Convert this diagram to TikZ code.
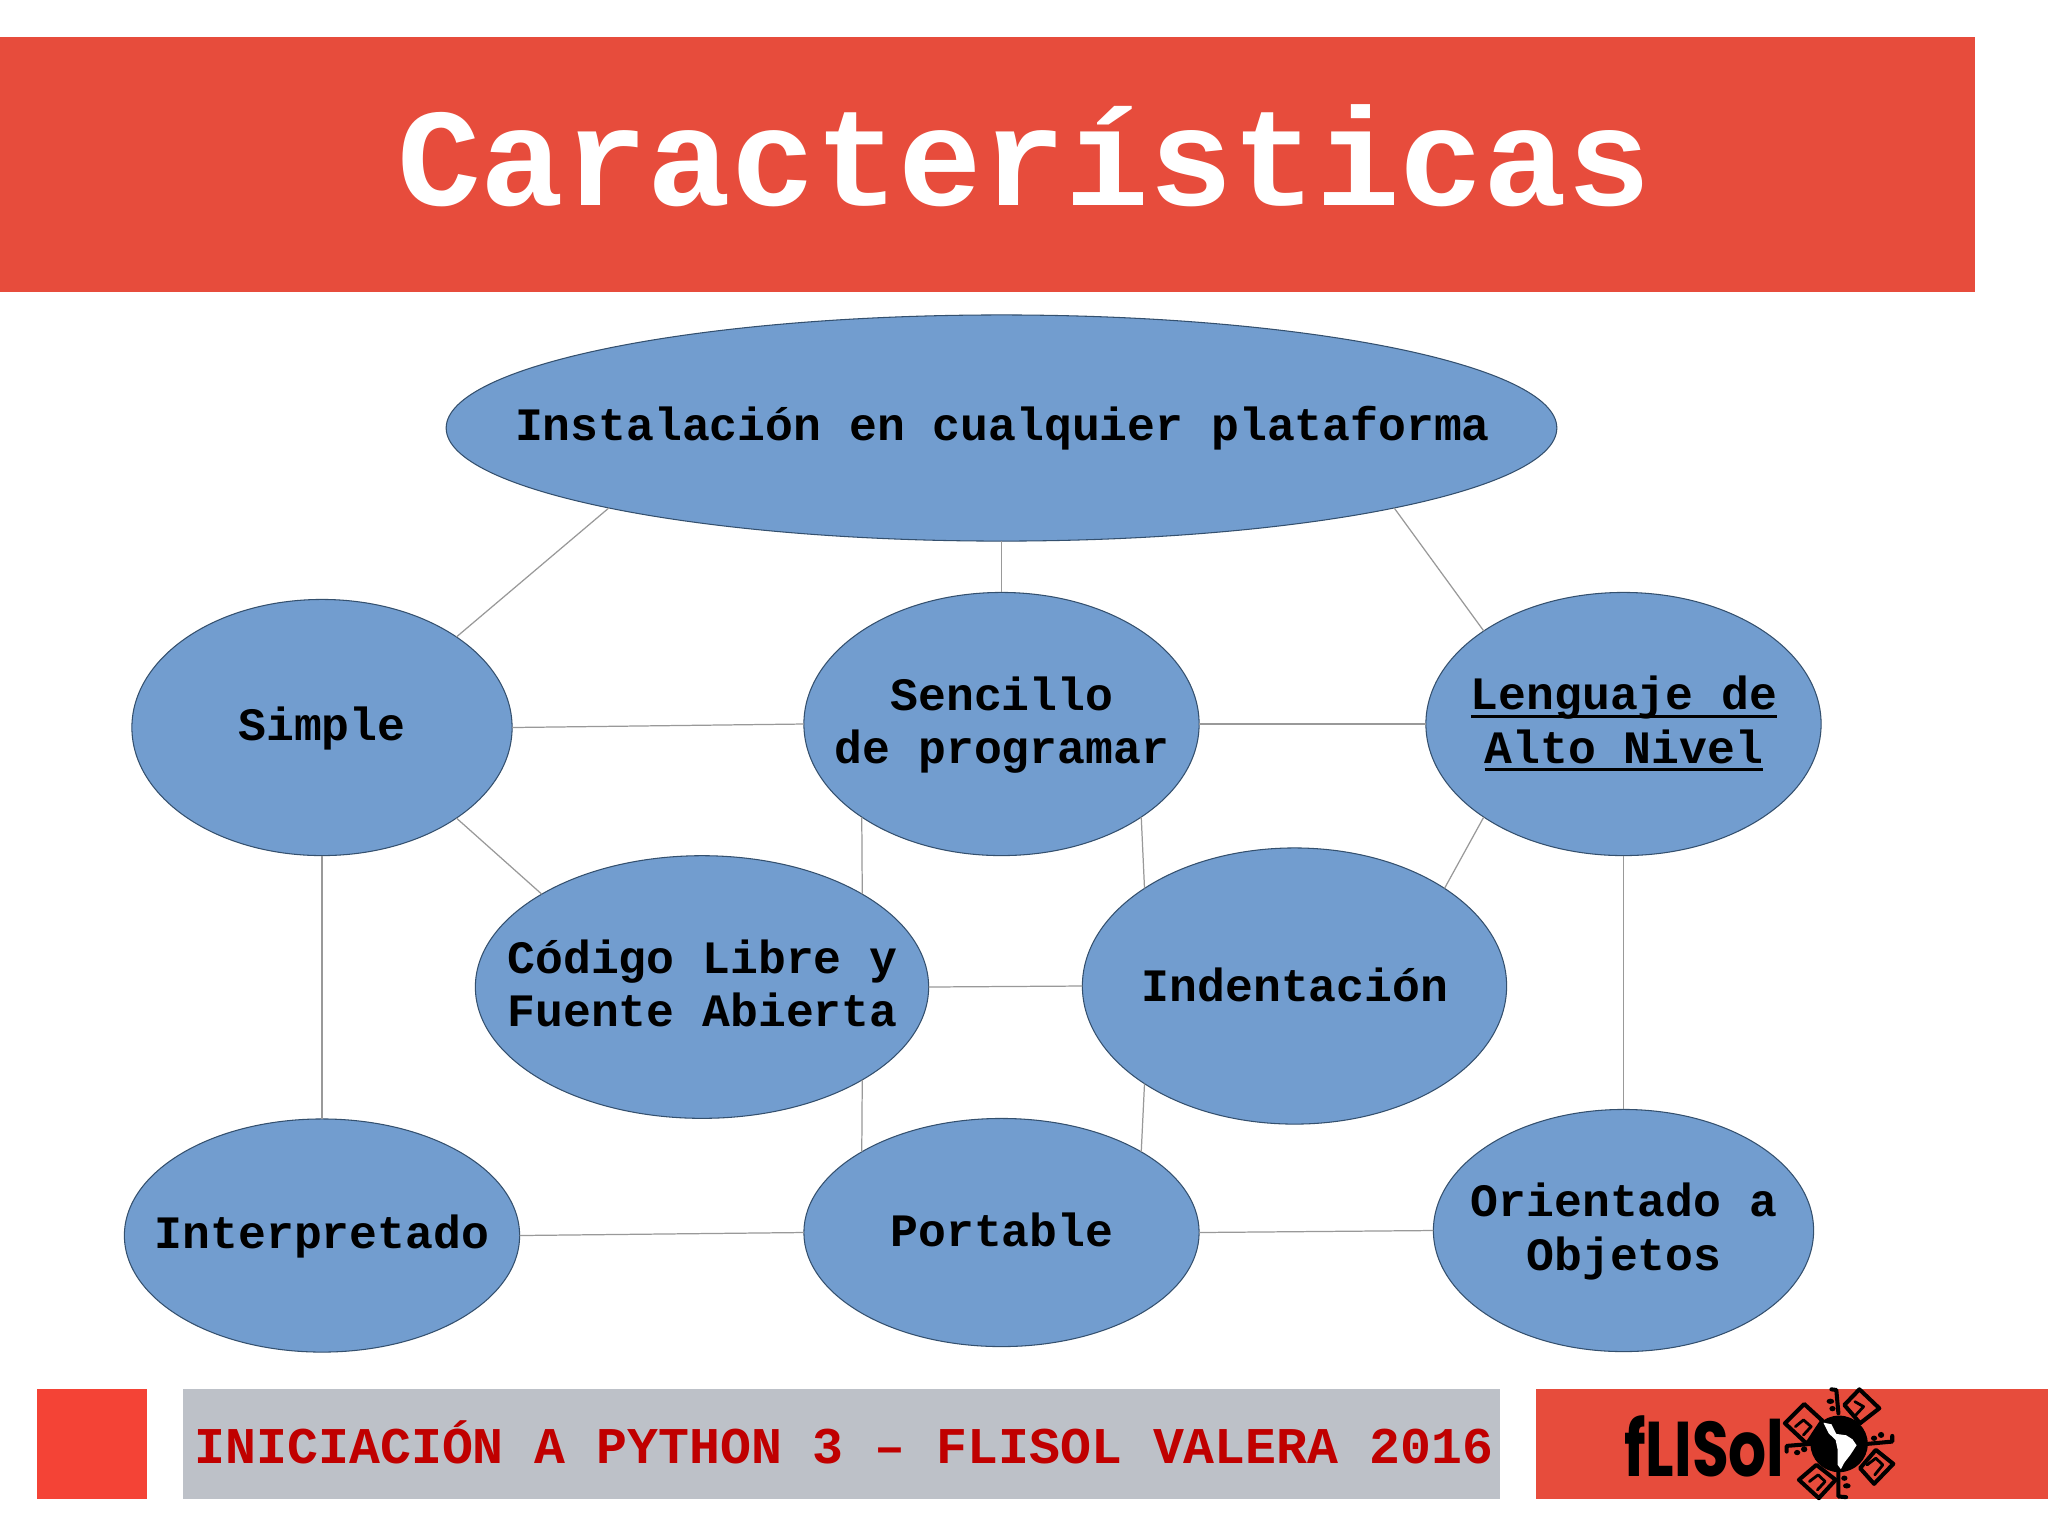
\documentclass[tikz,border=0pt]{standalone}
\usepackage{fontspec}
\setmainfont{Liberation Mono}
\newfontfamily\logofont{Poppins}
\usetikzlibrary{shapes.geometric}
\definecolor{bandred}{HTML}{E74C3C}
\definecolor{squarered}{HTML}{F44336}
\definecolor{footgray}{HTML}{BDC1C8}
\definecolor{footred}{HTML}{C00000}
\definecolor{ellfill}{HTML}{729DCF}
\definecolor{ellline}{HTML}{34506E}
\definecolor{linkgray}{HTML}{999999}
\newcommand{\ulineb}[1]{\smash{\vtop{\hbox{\smash{#1}}\kern1.3pt\hrule height 0.85pt}}}
\tikzset{
  ell/.style={ellipse,draw=ellline,fill=ellfill,line width=0.3pt,inner sep=0pt,outer sep=0pt},
  txt/.style={font=\fontsize{13.2}{15.1}\selectfont\bfseries,text=black,align=center,inner sep=0pt,outer sep=0pt},
  link/.style={draw=linkgray,line width=0.35pt},
  bar/.style={inner sep=0pt,outer sep=0pt,anchor=north west},
  logoline/.style={draw=black,line width=1.15pt,line cap=round,line join=round},
  logoblob/.style={fill=black,draw=none}
}
\begin{document}
\begin{tikzpicture}[x=0.01cm,y=-0.01cm]
\useasboundingbox[fill=white] (0,0) rectangle (2048,1535);
% bars
\node[bar,fill=bandred,minimum width=19.74cm,minimum height=2.55cm] (band) at (0,37) {};
\node[font=\fontsize{39.6}{44}\selectfont\bfseries,text=white,inner sep=0pt] (title) at (1024,156) {Características};
\node[bar,fill=squarered,minimum width=1.10cm,minimum height=1.10cm] (square) at (36.5,1389) {};
\node[bar,fill=footgray,minimum width=13.16cm,minimum height=1.10cm] (foot) at (183,1389) {};
\node[font=\fontsize{14.65}{17}\selectfont\bfseries,text=footred,inner sep=0pt] (foottext) at (844,1442) {INICIACIÓN A PYTHON 3 – FLISOL VALERA 2016};
\node[bar,fill=bandred,minimum width=5.12cm,minimum height=1.10cm] (logobar) at (1536,1389) {};
% ellipses
\node[ell,minimum width=11.10cm,minimum height=2.26cm,label={[txt,xshift=0.01cm]center:Instalación en cualquier plataforma}] (top) at (1001.5,428) {};
\node[ell,minimum width=3.80cm,minimum height=2.56cm,label={[txt,yshift=-0.01cm]center:Simple}] (simple) at (322,727.5) {};
\node[ell,minimum width=3.95cm,minimum height=2.63cm,label={[txt,yshift=-0.01cm,xshift=0.005cm]center:{Sencillo\\de programar}}] (sencillo) at (1001.5,724) {};
\node[ell,minimum width=3.95cm,minimum height=2.63cm,label={[txt,yshift=-0.125cm,xshift=0.005cm]center:{\ulineb{Lenguaje de}\\\ulineb{Alto Nivel}}}] (lenguaje) at (1623.5,724) {};
\node[ell,minimum width=4.53cm,minimum height=2.625cm,label={[txt,yshift=0.04cm,xshift=0.005cm]center:{Código Libre y\\Fuente Abierta}}] (codigo) at (702,987) {};
\node[ell,minimum width=4.24cm,minimum height=2.76cm,label={[txt,yshift=0.015cm,xshift=0.005cm]center:Indentación}] (indent) at (1294.5,986) {};
\node[ell,minimum width=3.95cm,minimum height=2.33cm,label={[txt,yshift=-0.01cm]center:Interpretado}] (interp) at (322,1235.5) {};
\node[ell,minimum width=3.95cm,minimum height=2.28cm,label={[txt,yshift=0.025cm,xshift=0.005cm]center:Portable}] (portable) at (1001.5,1232.5) {};
\node[ell,minimum width=3.80cm,minimum height=2.42cm,label={[txt,yshift=-0.01cm,xshift=0.005cm]center:{Orientado a\\Objetos}}] (orient) at (1623.5,1230.5) {};
% connectors
\draw[link] (top.south west) -- (simple.north east);
\draw[link] (top.south) -- (sencillo.north);
\draw[link] (top.south east) -- (lenguaje.north west);
\draw[link] (simple.east) -- (sencillo.west);
\draw[link] (sencillo.east) -- (lenguaje.west);
\draw[link] (simple.south east) -- (codigo.north west);
\draw[link] (simple.south) -- (interp.north);
\draw[link] (sencillo.south west) -- (codigo.north east);
\draw[link] (sencillo.south east) -- (indent.north west);
\draw[link] (lenguaje.south west) -- (indent.north east);
\draw[link] (lenguaje.south) -- (orient.north);
\draw[link] (codigo.east) -- (indent.west);
\draw[link] (codigo.south east) -- (portable.north west);
\draw[link] (indent.south west) -- (portable.north east);
\draw[link] (interp.east) -- (portable.west);
\draw[link] (portable.east) -- (orient.west);
% logo
\node[font=\logofont\fontsize{21}{24}\selectfont\bfseries,text=black,inner sep=0pt,xscale=0.81,yscale=1.05] (logotext) at (1704.5,1446) {fLISol};
\begin{scope}[shift={(1500,1370)},x=0.0034965cm,y=-0.003333cm]
\fill[black] (970,222) ellipse [x radius=82,y radius=85];
\fill[white] (925,158) -- (948,163) -- (962,192) -- (990,196) -- (1008,208) -- (1020,226) -- (1002,255) -- (985,278) -- (975,298) -- (966,285) -- (966,240) -- (960,210) -- (940,190) -- cycle;
% diamonds
\draw[logoline] (870,102) -- (922,152) -- (878,222) -- (815,160) -- cycle;
\draw[logoline] (1028,58) -- (1085,115) -- (1030,160) -- (985,105) -- cycle;
\draw[logoline] (1075,240) -- (1125,282) -- (1070,342) -- (1030,295) -- cycle;
\draw[logoline] (905,285) -- (960,330) -- (912,385) -- (855,330) -- cycle;
% spirals
\draw[logoline,line width=0.8pt] (845,170) -- (868,150) -- (890,170) -- (868,195);
\draw[logoline,line width=0.8pt] (1015,95) -- (1040,110) -- (1018,135);
\draw[logoline,line width=0.8pt] (1050,285) -- (1075,265) -- (1095,285) -- (1072,315);
\draw[logoline,line width=0.8pt] (885,335) -- (910,315) -- (930,335) -- (908,360);
% arms
\draw[logoline] (968,130) -- (962,60) -- (948,58);
\draw[logoline] (968,300) -- (968,380) -- (990,382);
\draw[logoline] (890,222) -- (820,228) -- (820,245);
\draw[logoline] (1050,222) -- (1122,215) -- (1122,198);
% dots
\fill[logoblob] (945,94) ellipse [x radius=11,y radius=8];
\fill[logoblob] (951,116) ellipse [x radius=9,y radius=8];
\fill[logoblob] (1070,205) ellipse [x radius=9,y radius=8];
\fill[logoblob] (1090,195) ellipse [x radius=9,y radius=9];
\fill[logoblob] (850,248) ellipse [x radius=9,y radius=8];
\fill[logoblob] (870,238) ellipse [x radius=9,y radius=9];
\fill[logoblob] (985,325) ellipse [x radius=9,y radius=8];
\fill[logoblob] (992,348) ellipse [x radius=11,y radius=8];
\end{scope}
\end{tikzpicture}
\end{document}
